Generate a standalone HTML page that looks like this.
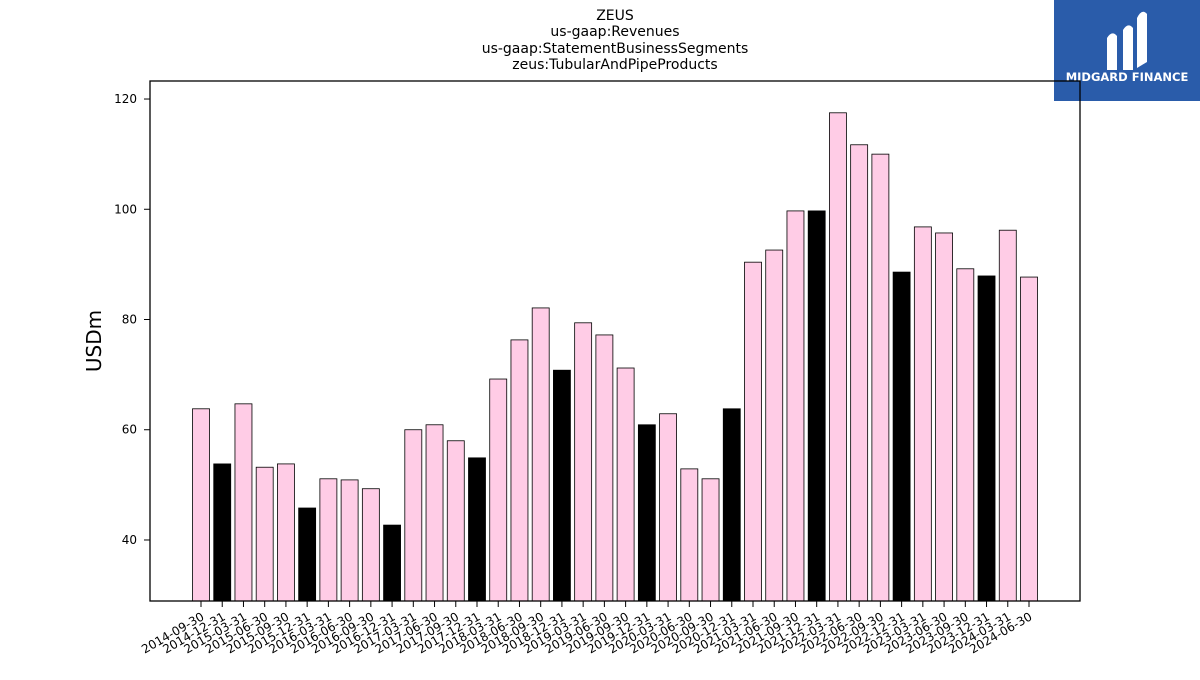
<!DOCTYPE html>
<html><head><meta charset="utf-8"><style>
body{margin:0;background:#fff;width:1200px;height:675px;overflow:hidden;font-family:"Liberation Sans","DejaVu Sans",sans-serif}
</style></head><body>
<svg id="chart" width="1200" height="675" xmlns="http://www.w3.org/2000/svg" font-family="DejaVu Sans, Liberation Sans, sans-serif">
<g font-size="14" text-anchor="middle" fill="#000">
<text x="615" y="20">ZEUS</text>
<text x="615" y="36">us-gaap:Revenues</text>
<text x="615" y="53">us-gaap:StatementBusinessSegments</text>
<text x="615" y="69">zeus:TubularAndPipeProducts</text>
</g>
<g>
<rect x="1054" y="0" width="146" height="101" fill="#2a5caa"/>
<path d="M1107 70 L1107 38 Q1112 30 1117 36 L1117 70 Z M1123 70 L1123 30 Q1128 22 1133 28 L1133 70 Z M1137 68 L1137 18 Q1142 8 1147 14 L1147 62 Z" fill="#fff"/>
<text x="1127" y="81" font-size="11.5" font-weight="bold" fill="#fff" text-anchor="middle">MIDGARD FINANCE</text>
</g>
<text x="101" y="341" font-size="20" text-anchor="middle" transform="rotate(-90 101 341)">USDm</text>
<g id="plot"></g>
<rect x="150" y="81" width="930" height="520" fill="none" stroke="#000" stroke-width="1.3"/>
</svg>
<script>
const categories=["2014-09-30","2014-12-31","2015-03-31","2015-06-30","2015-09-30","2015-12-31","2016-03-31","2016-06-30","2016-09-30","2016-12-31","2017-03-31","2017-06-30","2017-09-30","2017-12-31","2018-03-31","2018-06-30","2018-09-30","2018-12-31","2019-03-31","2019-06-30","2019-09-30","2019-12-31","2020-03-31","2020-06-30","2020-09-30","2020-12-31","2021-03-31","2021-06-30","2021-09-30","2021-12-31","2022-03-31","2022-06-30","2022-09-30","2022-12-31","2023-03-31","2023-06-30","2023-09-30","2023-12-31","2024-03-31","2024-06-30"];
const values=[63.8,53.8,64.7,53.2,53.8,45.8,51.1,50.9,49.3,42.7,60.0,60.9,58.0,54.9,69.2,76.3,82.1,70.8,79.4,77.2,71.2,60.9,62.9,52.9,51.1,63.8,90.4,92.6,99.7,99.7,117.5,111.7,110.0,88.6,96.8,95.7,89.2,87.9,96.2,87.7];
const yTicks=[40,60,80,100,120];
const NS="http://www.w3.org/2000/svg";
const plotG=document.getElementById('plot');
const yMin=28.93,yMax=123.27,plotTop=81,plotBot=601;
const yS=v=>plotBot-(v-yMin)/(yMax-yMin)*(plotBot-plotTop);
const x0=201,step=(1029-201)/(categories.length-1),bw=17;
const xS=i=>x0+i*step;
function mk(t,a){const e=document.createElementNS(NS,t);for(const k in a)e.setAttribute(k,a[k]);plotG.appendChild(e);return e;}
yTicks.forEach(t=>{
  const l=mk('line',{x1:144,x2:150,y1:yS(t),y2:yS(t),stroke:'#000'});
  
  
  const tx=mk('text',{x:137,y:yS(t)+4,'font-size':12,'text-anchor':'end'});
  tx.textContent=t;
  
  
});
categories.forEach((c,i)=>{
  const black=c.endsWith('12-31');
  const r=mk('rect',{x:xS(i)-bw/2,y:yS(values[i]),width:bw,height:plotBot-yS(values[i]),fill:black?'#000':'#ffcce6',stroke:'#000','stroke-width':0.8});
  
  
  const tk=mk('line',{x1:xS(i),x2:xS(i),y1:plotBot,y2:plotBot+6,stroke:'#000'});
  
  
  const tx=mk('text',{x:xS(i)+4,y:plotBot+18,'font-size':12,'text-anchor':'end',transform:`rotate(-30 ${xS(i)+4} ${plotBot+18})`});
  tx.textContent=c;
  
  
});
</script>
</body></html>
